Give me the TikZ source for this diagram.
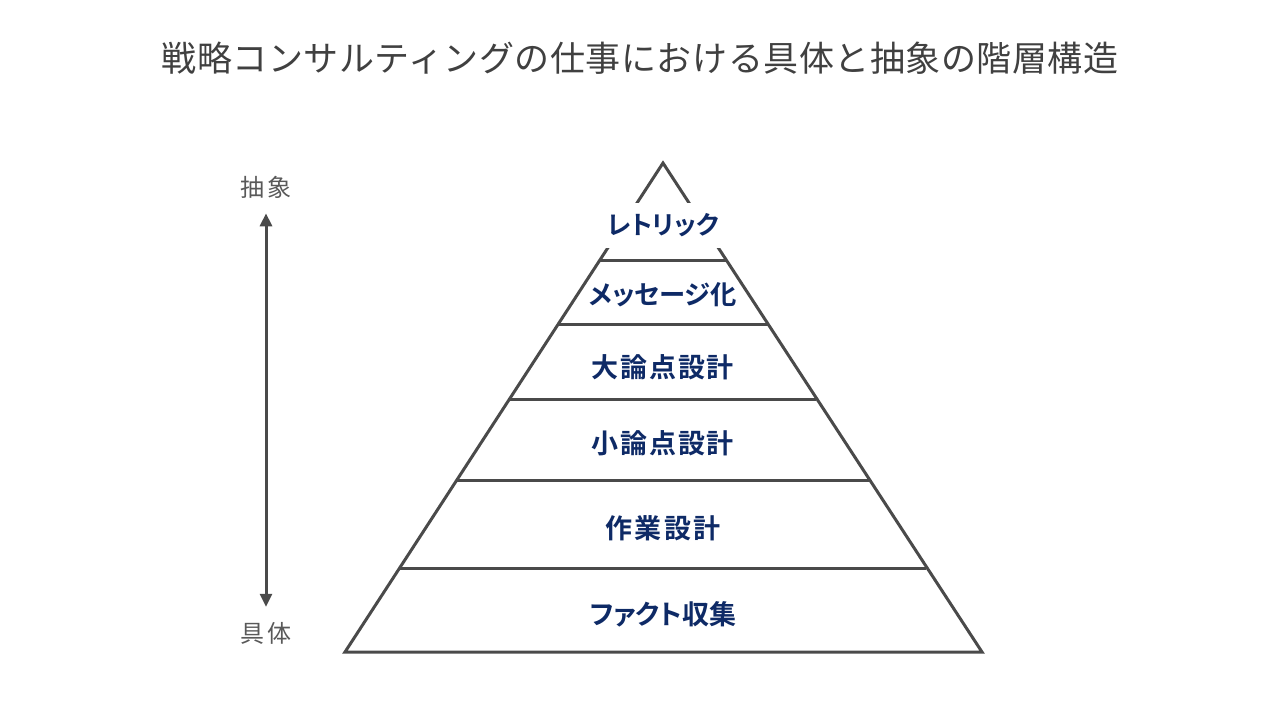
\documentclass[tikz,border=0pt]{standalone}
\usepackage{fontspec}
\setmainfont{Noto Sans CJK JP}
\newfontfamily\jpbold{Noto Sans CJK JP Bold}
\newfontfamily\jpboldkana[RawFeature=+palt]{Noto Sans CJK JP Bold}
\newfontfamily\jpside[LetterSpace=12]{Noto Sans CJK JP}
\newfontfamily\jptitle[LetterSpace=1.5]{Noto Sans CJK JP}
\usetikzlibrary{arrows.meta,calc}
\definecolor{linegray}{HTML}{4A4A4A}
\definecolor{titlegray}{HTML}{404040}
\definecolor{labelgray}{HTML}{595959}
\definecolor{navy}{HTML}{0E2A66}
\tikzset{
  layer/.style={font=\jpbold\fontsize{27}{27}\selectfont, text=navy, inner sep=0pt},
  kana/.style={font=\jpboldkana\fontsize{27}{27}\selectfont, text=navy, inner sep=0pt},
  side/.style={font=\jpside\fontsize{24}{24}\selectfont, text=labelgray, inner sep=2pt},
  pyr/.style={draw=linegray, line width=3pt, line join=miter},
}
\begin{document}
\begin{tikzpicture}[x=1pt,y=-1pt]
\useasboundingbox (0,0) rectangle (1280,720);
\node[font=\jptitle\fontsize{35}{35}\selectfont, text=titlegray, inner sep=0pt] (title) at (640,58) {戦略コンサルティングの仕事における具体と抽象の階層構造};
% pyramid outline
\draw[pyr] (663,163) -- (982,652) -- (345,652) -- cycle;
\foreach \y in {260,324,399,480,568}{
  \draw[pyr] ({663-0.6503*(\y-163)},\y) -- ({663+0.6503*(\y-163)},\y);
}
\node[kana, font=\jpboldkana\fontsize{25.5}{25.5}\selectfont, fill=white, minimum width=118pt, minimum height=45pt] (l1) at (663,225) {レトリック};
\node[kana, font=\jpboldkana\fontsize{26.3}{26.3}\selectfont] (l2) at (663,295) {メッセージ化};
\node[layer] (l3) at (663,367) {\addfontfeatures{LetterSpace=6.5}大論点設計};
\node[layer] (l4) at (663,443) {\addfontfeatures{LetterSpace=6.5}小論点設計};
\node[layer] (l5) at (663,528) {\addfontfeatures{LetterSpace=8}作業設計};
\node[kana] (l6) at (663,614) {ファクト収集};
% side axis
\node[side] (abs) at (266,187) {抽象};
\node[side] (con) at (266,633) {具体};
\draw[draw=linegray, line width=3pt, {Triangle[length=13pt,width=12pt]}-{Triangle[length=13pt,width=12pt]}] ($(abs.south)+(0,13)$) -- ($(con.north)+(0,-13)$);
\end{tikzpicture}
\end{document}
